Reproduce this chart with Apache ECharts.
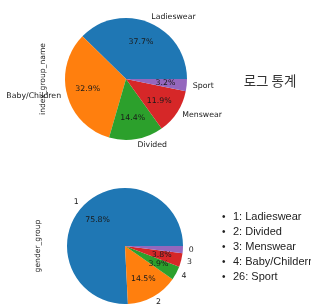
<!DOCTYPE html>
<html>
<head>
<meta charset="utf-8">
<script src="https://cdn.jsdelivr.net/npm/echarts@6/dist/echarts.min.js"></script>
<style>
  html, body { margin: 0; padding: 0; background: #fff; }
  #chart { width: 311px; height: 308px; }
</style>
</head>
<body>
<div id="chart"></div>
<script>
// 상단: index_group_name 비율
const groupNames = ['Ladieswear', 'Baby/Children', 'Divided', 'Menswear', 'Sport'];
const groupPct = [37.7, 32.9, 14.4, 11.9, 3.2];

// 하단: gender_group 비율
const genderNames = ['1', '2', '4', '3', '0'];
const genderPct = [75.8, 14.5, 3.9, 3.8, 2.0];

const legendLines = ['1: Ladieswear', '2: Divided', '3: Menswear', '4: Baby/Childern', '26: Sport'];

const colors = ['#1f77b4', '#ff7f0e', '#2ca02c', '#d62728', '#9467bd'];
const labelFont = { fontFamily: 'DejaVu Sans', fontSize: 7.8, color: '#1a1a1a' };

function toData(names, values) {
    return names.map((n, i) => ({ name: n, value: values[i] }));
}

// 파이 하나 = 이름 라벨(바깥) + 퍼센트 라벨(안쪽, 0.6r)
function makePie(names, values, center, r) {
    const data = toData(names, values);
    return [
        {
            type: 'pie',
            center: center,
            radius: [0, r],
            startAngle: 0,
            clockwise: false,
            avoidLabelOverlap: false,
            silent: true,
            data: data,
            itemStyle: { borderWidth: 0 },
            label: Object.assign({
                show: true,
                position: 'outside',
                formatter: '{b}',
                distanceToLabelLine: 0
            }, labelFont),
            labelLine: { show: false, length: r * 0.1, length2: 0 }
        },
        {
            type: 'pie',
            center: center,
            radius: [r * 0.2, r],
            startAngle: 0,
            clockwise: false,
            avoidLabelOverlap: false,
            silent: true,
            data: data,
            itemStyle: { color: 'rgba(0,0,0,0)', borderWidth: 0 },
            label: Object.assign({
                show: true,
                position: 'inside',
                formatter: p => p.value.toFixed(1) + '%'
            }, labelFont),
            labelLine: { show: false }
        }
    ];
}

const chart = echarts.init(document.getElementById('chart'), null, { renderer: 'canvas' });

const graphics = [
    {
        type: 'text', x: 43, y: 79, rotation: Math.PI / 2,
        style: { text: 'index_group_name', fill: '#222', font: '7.6px "DejaVu Sans"', textAlign: 'center', textVerticalAlign: 'middle' }
    },
    {
        type: 'text', x: 38, y: 246, rotation: Math.PI / 2,
        style: { text: 'gender_group', fill: '#222', font: '7.6px "DejaVu Sans"', textAlign: 'center', textVerticalAlign: 'middle' }
    },
    {
        type: 'text', x: 270, y: 81,
        style: { text: '로그 통계', fill: '#333', font: '13.5px "Noto Sans CJK KR"', textAlign: 'center', textVerticalAlign: 'middle' }
    }
];
legendLines.forEach((t, i) => {
    const y = 217 + i * 15;
    graphics.push({
        type: 'text', x: 222, y: y,
        style: { text: '•', fill: '#222', font: '10px "Liberation Sans"', textVerticalAlign: 'middle' }
    });
    graphics.push({
        type: 'text', x: 233, y: y,
        style: { text: t, fill: '#222', font: '11px "Liberation Sans"', textVerticalAlign: 'middle' }
    });
});

chart.setOption({
    backgroundColor: '#fff',
    animation: false,
    color: colors,
    series: [].concat(
        makePie(groupNames, groupPct, [126, 79], 61),
        makePie(genderNames, genderPct, [125, 246], 58)
    ),
    graphic: graphics
});
</script>
</body>
</html>
